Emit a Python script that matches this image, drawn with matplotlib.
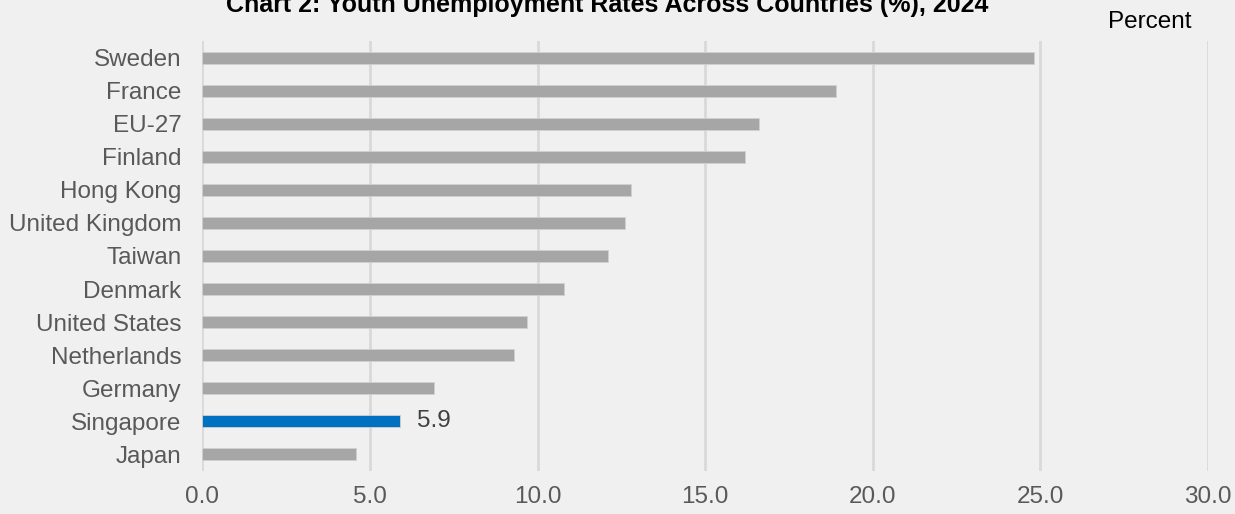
import numpy as np
import matplotlib.pyplot as plt

# Youth unemployment rate (%), 2024
countries = ['Sweden', 'France', 'EU-27', 'Finland', 'Hong Kong', 'United Kingdom',
             'Taiwan', 'Denmark', 'United States', 'Netherlands', 'Germany',
             'Singapore', 'Japan']
rates = [24.8, 18.9, 16.6, 16.2, 12.8, 12.6, 12.1, 10.8, 9.7, 9.3, 6.9, 5.9, 4.6]
highlight = 'Singapore'
x_ticks = [0, 5, 10, 15, 20, 25, 30]

plt.rcParams['font.family'] = ['Liberation Sans', 'DejaVu Sans']

bg = '#F0F0F0'
fig = plt.figure(figsize=(12.35, 5.14), dpi=100, facecolor=bg)
ax = fig.add_axes([0.1638, 0.0837, 0.8143, 0.8365], facecolor=bg)

y = np.arange(len(countries))
colors = ['#0070C0' if c == highlight else '#A6A6A6' for c in countries]
ax.barh(y, rates, height=0.36, color=colors, edgecolor='#D0D0D0', linewidth=0.6, zorder=3)

# value label for the highlighted bar
i = countries.index(highlight)
ax.annotate(f'{rates[i]:.1f}', xy=(rates[i], y[i]), xytext=(12, 0),
            textcoords='offset points', va='center', ha='left',
            fontsize=17.5, color='#404040')

ax.set_ylim(len(countries) - 0.5, -0.5)
ax.set_yticks(y)
ax.set_yticklabels(countries)
ax.set_xlim(0, 30)
ax.set_xticks(x_ticks)
ax.set_xticklabels([f'{t:.1f}' for t in x_ticks])

ax.tick_params(axis='both', length=0, labelsize=17.5, labelcolor='#595959')
ax.tick_params(axis='x', pad=11)
ax.tick_params(axis='y', pad=15)
ax.grid(axis='x', color='#D9D9D9', linewidth=2, zorder=0)
for s in ax.spines.values():
    s.set_visible(False)

fig.text(0.492, 1 - 12 / 514, 'Chart 2: Youth Unemployment Rates Across Countries (%), 2024',
         ha='center', va='baseline', fontsize=18, fontweight='bold', color='#000000')
fig.text(0.965, 1 - 22 / 514, 'Percent', ha='right', va='center', fontsize=17.5, color='#000000')

fig.savefig('out.png', dpi=100, facecolor=bg)
